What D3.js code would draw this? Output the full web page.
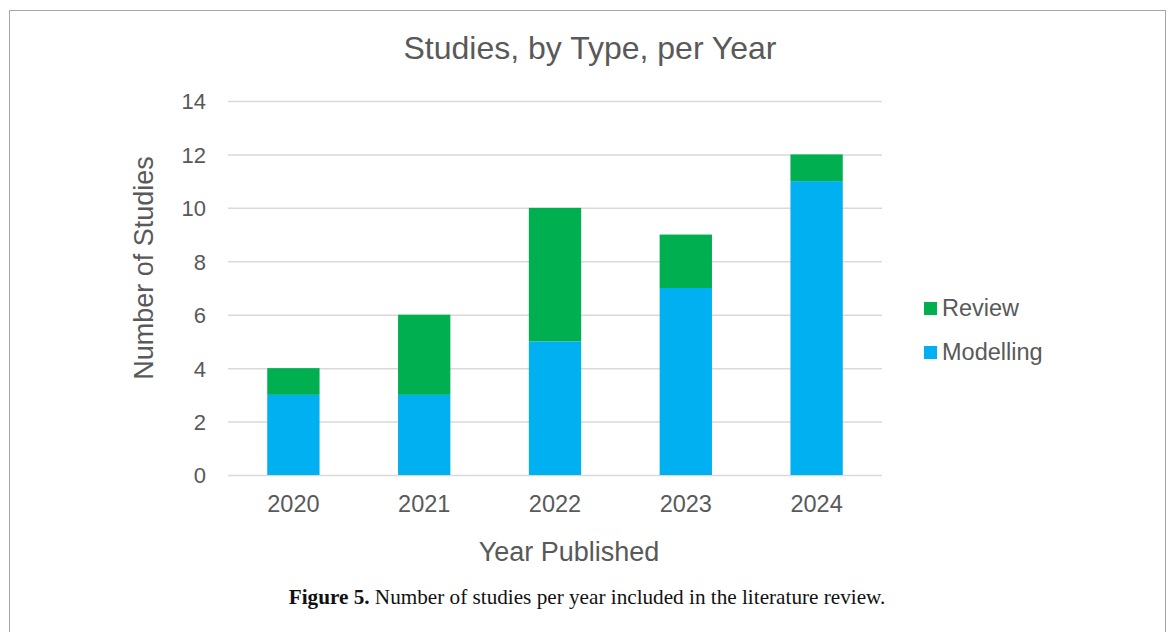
<!doctype html>
<html>
  <head>
    <meta charset="utf-8"/>
    <title>Studies, by Type, per Year</title>
    <style>
      body, html {
        padding: 0;
        margin: 0;
        background: #fff;
      }
      .frame {
        position: absolute;
        left: 9px;
        top: 10px;
        width: 1157px;
        height: 640px;
        border: 1px solid #a6a6a6;
        box-sizing: border-box;
      }
      svg {
        position: absolute;
        left: 0;
        top: 0;
      }
      .chart text {
        font-family: "Liberation Sans", Arial, sans-serif;
        fill: #595959;
      }
      .caption {
        font-family: "Liberation Serif", "Times New Roman", serif;
        font-size: 21.2px;
        fill: #111;
      }
    </style>
    <script src="https://d3js.org/d3.v7.min.js"></script>
  </head>
  <body>
    <div class="frame"></div>
    <svg width="1171" height="632"></svg>

    <script>
      var years = ["2020", "2021", "2022", "2023", "2024"];
      var modelling = [3, 3, 5, 7, 11];
      var review = [1, 3, 5, 2, 1];
      var yTicks = [0, 2, 4, 6, 8, 10, 12, 14];
      var seriesNames = ["Modelling", "Review"];
      var seriesColors = ["#00b0f0", "#00b050"];

      var rows = years.map(function(y, i) {
        return { year: y, Modelling: modelling[i], Review: review[i] };
      });

      var svg = d3.select("svg");
      var g = svg.append("g").attr("class", "chart");

      var x = d3.scaleBand()
        .domain(years)
        .range([228, 882])
        .paddingInner(0.6)
        .paddingOuter(0.3);

      var y = d3.scaleLinear()
        .domain([0, 14])
        .range([475, 101]);

      var color = d3.scaleOrdinal().domain(seriesNames).range(seriesColors);

      // gridlines
      g.append("g")
        .attr("transform", "translate(228,0)")
        .call(d3.axisLeft(y).tickValues(yTicks).tickSize(-654).tickFormat(""))
        .call(function(a) {
          a.select(".domain").remove();
          a.selectAll("line").attr("stroke", "#d9d9d9").attr("stroke-width", 1.5);
        });

      // y tick labels
      g.append("g")
        .attr("transform", "translate(206,0)")
        .call(d3.axisLeft(y).tickValues(yTicks).tickSize(0).tickPadding(0))
        .call(function(a) {
          a.select(".domain").remove();
          a.selectAll("text").attr("font-size", 22).attr("dy", "0.36em");
        });

      // stacked bars
      var stack = d3.stack().keys(seriesNames);
      g.append("g")
        .selectAll("g")
        .data(stack(rows))
        .enter().append("g")
          .attr("fill", function(d) { return color(d.key); })
        .selectAll("rect")
        .data(function(d) { return d; })
        .enter().append("rect")
          .attr("x", function(d) { return x(d.data.year); })
          .attr("y", function(d) { return y(d[1]); })
          .attr("width", x.bandwidth())
          .attr("height", function(d) { return y(d[0]) - y(d[1]); });

      // x axis labels
      g.append("g")
        .attr("transform", "translate(0,475)")
        .call(d3.axisBottom(x).tickSize(0).tickPadding(20))
        .call(function(a) {
          a.select(".domain").remove();
          a.selectAll("text").attr("font-size", 23.5);
        });

      // titles
      g.append("text")
        .attr("x", 590)
        .attr("y", 59)
        .attr("text-anchor", "middle")
        .attr("font-size", 32)
        .text("Studies, by Type, per Year");

      g.append("text")
        .attr("transform", "translate(153,268) rotate(-90)")
        .attr("text-anchor", "middle")
        .attr("font-size", 27)
        .text("Number of Studies");

      g.append("text")
        .attr("x", 569)
        .attr("y", 561)
        .attr("text-anchor", "middle")
        .attr("font-size", 27)
        .text("Year Published");

      // legend, Review on top
      var legend = g.append("g")
        .selectAll("g")
        .data(seriesNames.slice().reverse())
        .enter().append("g")
          .attr("transform", function(d, i) { return "translate(924," + (308 + i * 44) + ")"; });
      legend.append("rect")
        .attr("x", 0).attr("y", -6)
        .attr("width", 13).attr("height", 13)
        .attr("fill", function(d) { return color(d); });
      legend.append("text")
        .attr("x", 18)
        .attr("dy", "0.36em")
        .attr("font-size", 23.5)
        .text(function(d) { return d; });

      // caption
      var cap = svg.append("text")
        .attr("class", "caption")
        .attr("x", 587)
        .attr("y", 604)
        .attr("text-anchor", "middle");
      cap.append("tspan").attr("font-weight", "bold").text("Figure 5.");
      cap.append("tspan").text(" Number of studies per year included in the literature review.");
    </script>
  </body>
</html>
